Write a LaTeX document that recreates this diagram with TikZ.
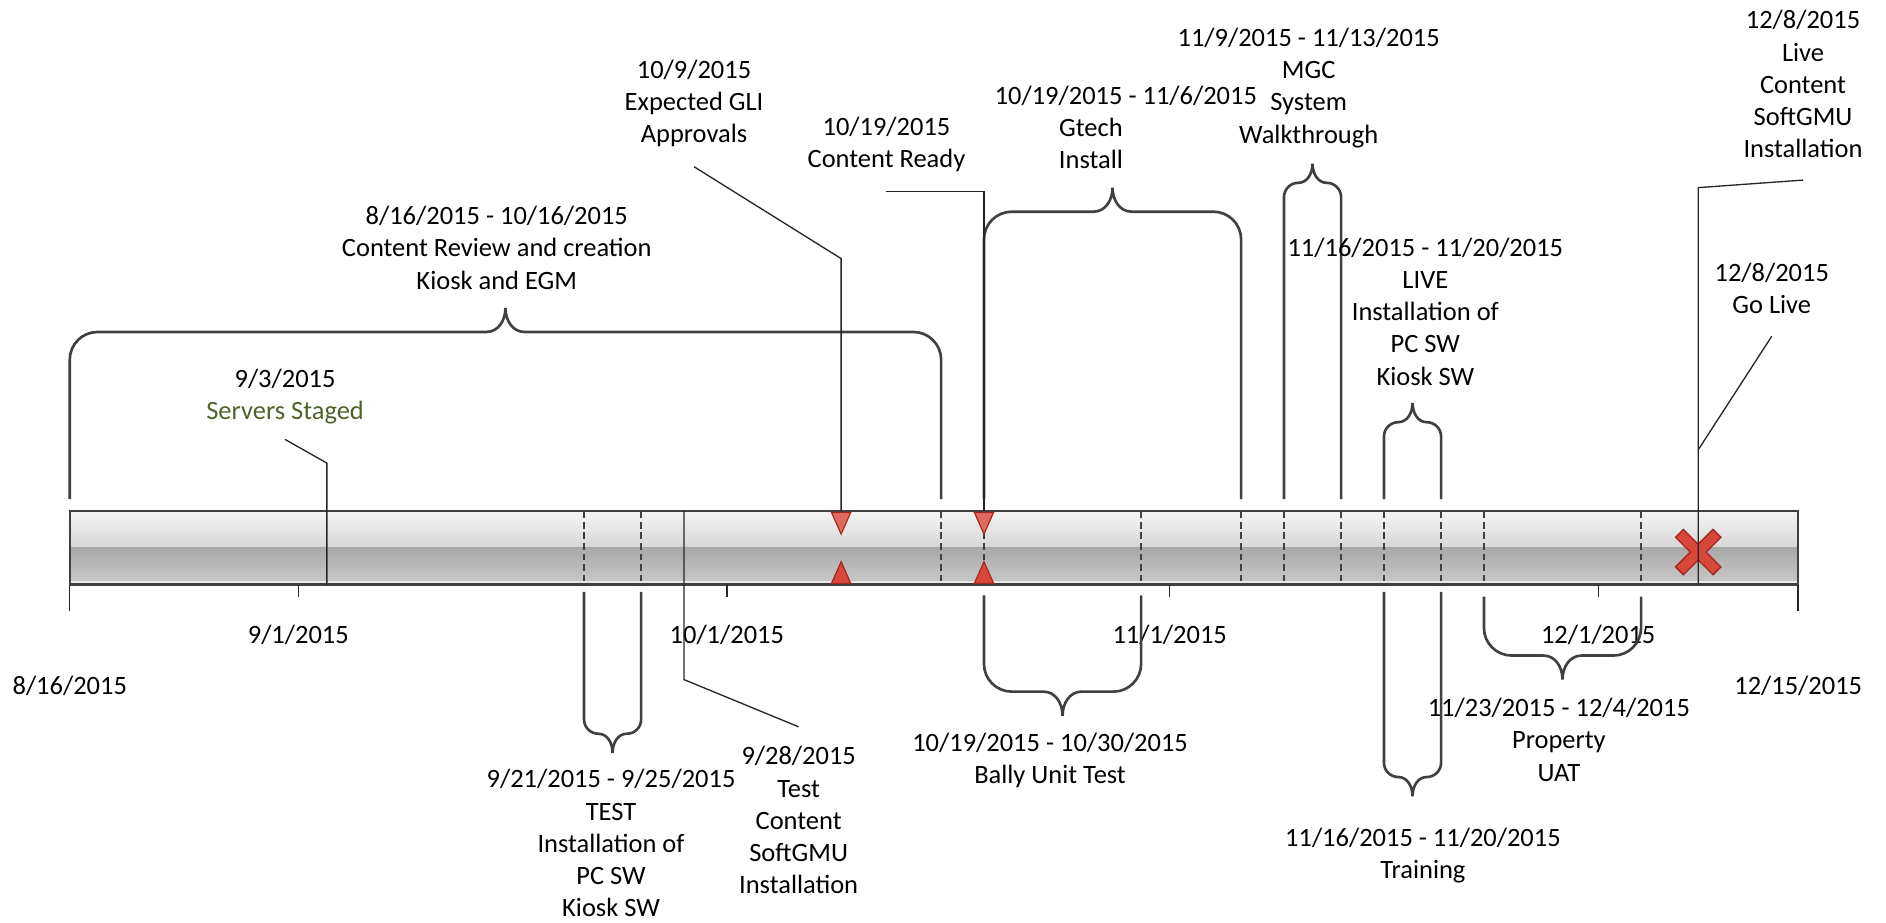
\documentclass[tikz,border=0pt]{standalone}
\usepackage{fontspec}
\setmainfont{Carlito}

\definecolor{framegray}{HTML}{404040}
\definecolor{stagegreen}{HTML}{4F6228}
\definecolor{markred}{HTML}{D9473B}
\definecolor{markredlight}{HTML}{E06A61}
\definecolor{markborder}{HTML}{A5291F}

% day number (0 = 8/16/2015) to x
\newcommand\dx[1]{58+11.876*#1}

% interval bracket: first day, last day, foot y, crest y, -1 above / 1 below
\newcommand\tlbrace[5]{%
  \pgfmathsetmacro\bxa{\dx{#1}}%
  \pgfmathsetmacro\bxb{\dx{#2}}%
  \pgfmathsetmacro\bxm{(\bxa+\bxb)/2}%
  \pgfmathsetmacro\bhw{(\bxb-\bxa)/2}%
  \pgfmathsetmacro\brr{min(23,\bhw/2)}%
  \pgfmathsetmacro\bcc{min(16,\bhw/2)}%
  \pgfmathsetmacro\bdd{\bhw>30 ? 20 : 16}%
  \draw[bracket] (\bxa,#3) -- (\bxa,{#4-(#5)*\brr})
    .. controls (\bxa,{#4-(#5)*0.45*\brr}) and ({\bxa+0.45*\brr},#4) .. ({\bxa+\brr},#4)
    -- ({\bxm-\bcc},#4)
    .. controls ({\bxm-0.35*\bcc},#4) and (\bxm,{#4+(#5)*0.5*\bdd}) .. (\bxm,{#4+(#5)*\bdd})
    .. controls (\bxm,{#4+(#5)*0.5*\bdd}) and ({\bxm+0.35*\bcc},#4) .. ({\bxm+\bcc},#4)
    -- ({\bxb-\brr},#4)
    .. controls ({\bxb-0.45*\brr},#4) and (\bxb,{#4-(#5)*0.45*\brr}) .. (\bxb,{#4-(#5)*\brr})
    -- (\bxb,#3);%
}

\tikzset{
  lbl/.style={align=center, inner sep=0pt, font=\fontsize{11}{13.4}\selectfont},
  bracket/.style={draw=framegray, line width=1.1pt},
  callout/.style={draw=black!85, line width=0.55pt},
  divider/.style={draw=framegray, line width=0.55pt, dash pattern=on 2.8pt off 1.6pt},
  tickmark/.style={draw=black!85, line width=0.6pt},
}

\begin{document}
\begin{tikzpicture}[x=0.5pt, y=-0.5pt]
\useasboundingbox (0,0) rectangle (1568,767);

% timeline bar
\shade[top color=black!4, bottom color=black!16] (58,425) rectangle (1495,455);
\shade[top color=black!34, bottom color=black!22] (58,455) rectangle (1495,483);
\fill[black!9] (58,483) rectangle (1495,486);
\foreach \d in {36,40,61,64,75,82,85,89,92,96,99,110}
  \draw[divider] ({\dx{\d}},425) -- ({\dx{\d}},486);
\draw[framegray, line width=0.9pt] (58,425) rectangle (1495,486);

% axis ticks
\foreach \d in {16,46,77,107}
  \draw[tickmark] ({\dx{\d}},486) -- ({\dx{\d}},496);
\foreach \d in {0,121}
  \draw[tickmark] ({\dx{\d}},486) -- ({\dx{\d}},508);

% axis dates
\node[lbl] (a-0816) at (58,570) {8/16/2015};
\node[lbl] (a-0901) at ({\dx{16}},528) {9/1/2015};
\node[lbl] (a-1001) at ({\dx{46}},528) {10/1/2015};
\node[lbl] (a-1101) at ({\dx{77}},528) {11/1/2015};
\node[lbl] (a-1201) at ({\dx{107}},528) {12/1/2015};
\node[lbl] (a-1215) at ({\dx{121}},570) {12/15/2015};

% milestone markers
\coordinate (m-servers) at ({\dx{18}},486);
\coordinate (m-content) at ({\dx{43}},425);
\coordinate (m-gli) at ({\dx{54}},425);
\coordinate (m-ready) at ({\dx{64}},425);
\coordinate (m-live) at ({\dx{114}},486);
\foreach \d in {54,64} {
  \filldraw[fill=markredlight, draw=markborder, line width=0.5pt]
    ({\dx{\d}-8},426) -- ({\dx{\d}+8},426) -- ({\dx{\d}},444) -- cycle;
  \filldraw[fill=markred, draw=markborder, line width=0.5pt]
    ({\dx{\d}-8},485) -- ({\dx{\d}+8},485) -- ({\dx{\d}},467) -- cycle;
}
\begin{scope}[shift={({\dx{114}},459)}]
  \draw[markborder, line width=5.2pt] (-16,-16) -- (16,16) (-16,16) -- (16,-16);
  \draw[markred, line width=4pt] (-15,-15) -- (15,15) (-15,15) -- (15,-15);
\end{scope}

% interval brackets
\tlbrace{0}{61}{415}{276}{-1}
\tlbrace{64}{82}{415}{176}{-1}
\tlbrace{85}{89}{415}{152}{-1}
\tlbrace{92}{96}{415}{351}{-1}
\tlbrace{36}{40}{492}{610}{1}
\tlbrace{64}{75}{495}{575}{1}
\tlbrace{92}{96}{492}{646}{1}
\tlbrace{99}{110}{496}{545}{1}

% labels
\node[lbl] (lbl-review) at (413,206) {8/16/2015 - 10/16/2015\\Content Review and creation\\Kiosk and EGM};
\node[lbl] (lbl-servers) at (237,330) {9/3/2015\\\textcolor{stagegreen}{Servers Staged}};
\node[lbl] (lbl-gli) at (577,86) {10/9/2015\\Expected GLI\\Approvals};
\node[lbl] (lbl-ready) at (737,120) {10/19/2015\\Content Ready};
\node[lbl] (lbl-gtech) at (907,106) {\hspace*{29pt}10/19/2015 - 11/6/2015\\Gtech\\Install};
\node[lbl] (lbl-mgc) at (1088,73) {11/9/2015 - 11/13/2015\\MGC\\System\\Walkthrough};
\node[lbl] (lbl-live) at (1185,259) {11/16/2015 - 11/20/2015\\LIVE\\Installation of\\PC SW\\Kiosk SW};
\node[lbl] (lbl-softgmu) at (1499,70) {12/8/2015\\Live\\Content\\SoftGMU\\Installation};
\node[lbl] (lbl-golive) at (1473,240) {12/8/2015\\Go Live};
\node[lbl] (lbl-test) at (508,701) {9/21/2015 - 9/25/2015\\TEST\\Installation of\\PC SW\\Kiosk SW};
\node[lbl] (lbl-content) at (664,682) {9/28/2015\\Test\\Content\\SoftGMU\\Installation};
\node[lbl] (lbl-bally) at (873,632) {10/19/2015 - 10/30/2015\\Bally Unit Test};
\node[lbl] (lbl-training) at (1183,711) {11/16/2015 - 11/20/2015\\Training};
\node[lbl] (lbl-uat) at (1296,615) {11/23/2015 - 12/4/2015\\Property\\UAT};

% callouts
\draw[callout] ([yshift=-6pt]lbl-servers.south) -- ({\dx{18}},385) -- (m-servers);
\draw[callout] ([yshift=-8pt]lbl-gli.south) -- ({\dx{54}},215) -- (m-gli);
\draw[callout] ([yshift=-8pt]lbl-ready.south) -| (m-ready);
\draw[callout] ([yshift=8pt]lbl-content.north) -- ({\dx{43}},565) -- (m-content);
\draw[callout] ([yshift=-9pt]lbl-softgmu.south) -- ({\dx{114}},156) -- (m-live);
\draw[callout] ([yshift=-9pt]lbl-golive.south) -- ({\dx{114}},374);
\end{tikzpicture}
\end{document}
